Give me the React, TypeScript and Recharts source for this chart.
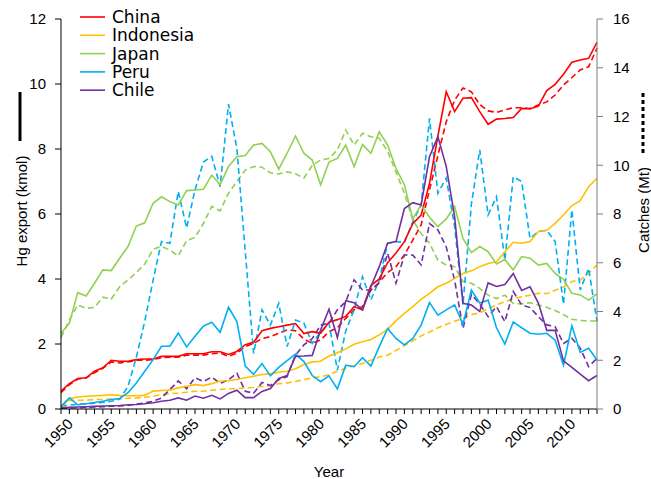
import { LineChart, Line, XAxis, YAxis, Legend } from "recharts"

const years = [
  1950, 1951, 1952, 1953, 1954, 1955, 1956, 1957, 1958, 1959,
  1960, 1961, 1962, 1963, 1964, 1965, 1966, 1967, 1968, 1969,
  1970, 1971, 1972, 1973, 1974, 1975, 1976, 1977, 1978, 1979,
  1980, 1981, 1982, 1983, 1984, 1985, 1986, 1987, 1988, 1989,
  1990, 1991, 1992, 1993, 1994, 1995, 1996, 1997, 1998, 1999,
  2000, 2001, 2002, 2003, 2004, 2005, 2006, 2007, 2008, 2009,
  2010, 2011, 2012, 2013, 2014
]

// Hg export (kmol), left axis
const chinaHg = [
  0.55, 0.78, 0.94, 0.96, 1.16, 1.27, 1.5, 1.47, 1.47, 1.52,
  1.54, 1.54, 1.62, 1.62, 1.62, 1.7, 1.7, 1.7, 1.76, 1.76,
  1.68, 1.77, 1.98, 2.05, 2.41, 2.48, 2.53, 2.58, 2.63, 2.32,
  2.38, 2.33, 2.67, 2.75, 2.85, 3.15, 3.05, 3.8, 4.0, 4.5,
  4.8, 5.15, 5.7, 5.97, 6.94, 8.4, 9.76, 9.15, 9.56, 9.58,
  9.15, 8.76, 8.92, 8.94, 8.97, 9.25, 9.23, 9.32, 9.8, 9.99,
  10.3, 10.67, 10.74, 10.79, 11.28
]
const indonesiaHg = [
  0.06, 0.32, 0.37, 0.39, 0.41, 0.42, 0.44, 0.42, 0.41, 0.41,
  0.42, 0.55, 0.57, 0.58, 0.65, 0.7, 0.75, 0.72, 0.78, 0.86,
  0.87, 0.91, 0.96, 1.01, 1.06, 1.08, 1.13, 1.16, 1.24, 1.37,
  1.45, 1.47, 1.63, 1.73, 1.85, 1.99, 2.07, 2.14, 2.28, 2.45,
  2.71, 2.94, 3.15, 3.37, 3.56, 3.76, 3.87, 4.02, 4.17, 4.25,
  4.38, 4.48, 4.53, 4.84, 5.13, 5.1, 5.15, 5.46, 5.5, 5.71,
  5.97, 6.26, 6.41, 6.84, 7.1
]
const japanHg = [
  2.33, 2.64, 3.58, 3.48, 3.87, 4.28, 4.26, 4.64, 5.0, 5.63,
  5.73, 6.33, 6.53, 6.38, 6.28, 6.72, 6.74, 6.76, 7.2, 6.9,
  7.46, 7.76, 7.8, 8.12, 8.17, 7.92, 7.38, 7.87, 8.4, 7.87,
  7.66, 6.9, 7.6, 7.71, 8.12, 7.46, 8.14, 7.87, 8.53, 8.12,
  7.4, 6.9, 5.85, 6.28, 5.9, 5.61, 5.85, 6.23, 5.25, 4.81,
  5.0, 4.84, 4.46, 4.6, 4.28, 4.69, 4.64, 4.43, 4.48, 4.17,
  3.99, 3.56, 3.51, 3.35, 3.54
]
const peruHg = [
  0.08, 0.34, 0.13, 0.16, 0.2, 0.24, 0.29, 0.32, 0.5, 0.8,
  1.16, 1.52, 1.93, 1.93, 2.34, 1.91, 2.24, 2.55, 2.67, 2.36,
  3.13, 2.69, 1.32, 1.07, 1.4, 1.02, 1.28, 1.49, 1.69, 1.46,
  1.03, 0.84, 1.02, 0.62, 1.35, 1.3, 1.58, 1.32, 1.92, 2.48,
  2.17, 1.97, 2.17, 2.58, 3.28, 2.89, 3.05, 3.2, 2.6, 3.66,
  3.26, 3.35, 2.5, 2.0, 2.68, 2.5, 2.33, 2.3, 2.33, 2.12,
  1.35, 2.56, 1.74, 1.87, 1.51
]
const chileHg = [
  0.03, 0.05, 0.06, 0.07, 0.08, 0.09, 0.1, 0.11, 0.13, 0.14,
  0.16, 0.19, 0.24, 0.27, 0.34, 0.27, 0.4, 0.33, 0.42, 0.31,
  0.48, 0.58, 0.35, 0.35, 0.54, 0.63, 0.94, 1.03, 1.62, 1.63,
  1.65, 2.43, 3.07, 2.2, 3.33, 3.27, 3.05, 3.76, 4.38, 5.1,
  5.15, 6.17, 6.35, 6.28, 7.76, 8.38, 7.46, 5.92, 3.25, 3.2,
  3.0, 3.88, 3.77, 3.83, 4.17, 3.65, 3.76, 3.26, 2.42, 2.42,
  1.48, 1.28, 1.07, 0.87, 1.03
]

// Catches (Mt), right axis
const chinaCatch = [
  0.67, 1.0, 1.23, 1.27, 1.49, 1.67, 1.93, 1.89, 1.93, 2.0,
  2.0, 2.03, 2.11, 2.13, 2.13, 2.21, 2.21, 2.21, 2.27, 2.29,
  2.16, 2.29, 2.56, 2.69, 2.89, 2.97, 3.11, 3.24, 3.21, 2.87,
  2.69, 2.83, 3.17, 3.33, 3.72, 4.07, 4.2, 4.88, 5.2, 5.6,
  5.84, 6.32, 6.93, 7.55, 8.99, 10.4, 11.79, 12.67, 13.17, 13.01,
  12.49, 12.23, 12.17, 12.27, 12.36, 12.36, 12.33, 12.47, 12.6, 12.88,
  13.29, 13.6, 13.91, 14.04, 14.8
]
const indonesiaCatch = [
  0.08, 0.35, 0.36, 0.36, 0.39, 0.39, 0.41, 0.41, 0.44, 0.45,
  0.48, 0.52, 0.59, 0.63, 0.65, 0.69, 0.73, 0.73, 0.77, 0.8,
  0.83, 0.83, 0.87, 0.88, 0.93, 0.96, 1.04, 1.07, 1.13, 1.2,
  1.28, 1.32, 1.41, 1.55, 1.67, 1.77, 1.87, 2.0, 2.13, 2.21,
  2.4, 2.6, 2.8, 3.0, 3.16, 3.33, 3.47, 3.6, 3.73, 3.87,
  3.95, 4.11, 4.27, 4.4, 4.53, 4.6, 4.67, 4.75, 4.73, 4.87,
  5.01, 5.23, 5.29, 5.56, 5.91
]
const japanCatch = [
  2.93, 3.65, 4.27, 4.13, 4.17, 4.59, 4.51, 5.01, 5.29, 5.6,
  5.95, 6.55, 6.67, 6.52, 6.28, 6.91, 7.04, 7.61, 8.31, 8.13,
  8.85, 9.33, 9.8, 9.95, 9.92, 9.69, 9.64, 9.73, 9.65, 9.47,
  10.0, 10.21, 10.28, 10.63, 11.44, 10.83, 11.31, 11.17, 11.11, 10.56,
  9.73, 8.85, 7.76, 7.2, 6.8, 6.11, 5.91, 5.84, 5.23, 5.16,
  4.95, 4.67, 4.53, 4.67, 4.33, 4.31, 4.36, 4.27, 4.17, 4.04,
  3.87, 3.68, 3.63, 3.61, 3.61
]
const peruCatch = [
  0.11, 0.16, 0.19, 0.21, 0.24, 0.27, 0.32, 0.4, 0.93, 2.13,
  3.6, 5.29, 6.87, 6.8, 8.93, 7.43, 8.99, 10.13, 10.37, 9.12,
  12.51, 10.69, 6.47, 2.28, 4.07, 3.44, 4.33, 2.56, 3.65, 3.52,
  2.69, 3.17, 3.52, 1.6, 3.2, 4.07, 5.43, 4.47, 5.29, 6.8,
  6.87, 6.83, 7.68, 8.37, 11.92, 8.85, 9.47, 7.48, 4.27, 8.4,
  10.63, 7.96, 8.71, 6.11, 9.53, 9.33, 7.0, 7.28, 7.33, 6.87,
  4.3, 8.17, 4.88, 5.77, 3.6
]
const chileCatch = [
  0.03, 0.04, 0.05, 0.07, 0.08, 0.09, 0.11, 0.12, 0.15, 0.2,
  0.25, 0.32, 0.45, 0.8, 1.15, 0.83, 1.28, 1.13, 1.31, 1.05,
  1.2, 1.47, 0.73, 0.65, 1.09, 0.96, 1.2, 1.33, 2.21, 2.63,
  2.89, 3.44, 3.52, 4.07, 4.4, 5.3, 4.88, 4.88, 5.16, 6.39,
  5.16, 6.32, 6.32, 5.91, 7.61, 7.35, 6.65, 5.29, 3.3, 4.7,
  4.3, 3.79, 4.2, 3.58, 4.82, 4.27, 4.16, 3.79, 3.45, 3.38,
  2.69, 2.9, 2.49, 1.74, 2.08
]

const hgTicks = [0, 2, 4, 6, 8, 10, 12]
const catchTicks = [0, 2, 4, 6, 8, 10, 12, 14, 16]

const series = [
  { name: "China", color: "#ff0000", hg: chinaHg, catches: chinaCatch },
  { name: "Indonesia", color: "#ffc000", hg: indonesiaHg, catches: indonesiaCatch },
  { name: "Japan", color: "#92d050", hg: japanHg, catches: japanCatch },
  { name: "Peru", color: "#00b0f0", hg: peruHg, catches: peruCatch },
  { name: "Chile", color: "#7030a0", hg: chileHg, catches: chileCatch }
]

const data = years.map((year, i) => {
  const row: any = { year }
  series.forEach((s) => {
    row[s.name + "Hg"] = s.hg[i]
    row[s.name + "Catch"] = s.catches[i]
  })
  return row
})

const FONT = "'Liberation Sans', Arial, sans-serif"

function YearTick(props: any) {
  const { x, y, payload } = props
  if (payload.value % 5 !== 0) return null
  const tx = x + 5
  const ty = y + 1
  return (
    <text
      x={tx}
      y={ty}
      transform={`rotate(-45 ${tx} ${ty})`}
      textAnchor="end"
      dominantBaseline="hanging"
      fontSize={15}
      fontFamily={FONT}
      fill="#000"
    >
      {payload.value}
    </text>
  )
}

function HgLabel() {
  return (
    <g>
      <line x1={20} x2={20} y1={92} y2={141} stroke="#000" strokeWidth={3} />
      <text
        x={21}
        y={211}
        transform="rotate(-90 21 211)"
        textAnchor="middle"
        dominantBaseline="central"
        fontSize={15}
        fontFamily={FONT}
        fill="#000"
      >
        Hg export (kmol)
      </text>
    </g>
  )
}

function CatchLabel() {
  return (
    <g>
      <line x1={643} x2={643} y1={93} y2={153} stroke="#000" strokeWidth={3} strokeDasharray="4 3" />
      <text
        x={643}
        y={210}
        transform="rotate(-90 643 210)"
        textAnchor="middle"
        dominantBaseline="central"
        fontSize={15}
        fontFamily={FONT}
        fill="#000"
      >
        Catches (Mt)
      </text>
    </g>
  )
}

function YearLabel() {
  return (
    <text x={329} y={471} textAnchor="middle" dominantBaseline="central" fontSize={15} fontFamily={FONT} fill="#000">
      Year
    </text>
  )
}

function LegendBox() {
  return (
    <svg width={220} height={105} style={{ display: "block" }}>
      {series.map((s, i) => (
        <g key={s.name}>
          <line x1={80} x2={105} y1={17 + i * 18.3} y2={17 + i * 18.3} stroke={s.color} strokeWidth={1.6} />
          <text
            x={112}
            y={17 + i * 18.3}
            dominantBaseline="central"
            fontSize={17}
            fontFamily="'DejaVu Sans', Verdana, sans-serif"
            fill="#000"
          >
            {s.name}
          </text>
        </g>
      ))}
    </svg>
  )
}

export default function App() {

  return (

    <div style={{ position: "absolute", left: 0, top: 0, background: "#fff" }}>

      <LineChart
        width={651}
        height={479}
        data={data}
        margin={{ top: 19, right: 14, bottom: 20, left: 16 }}
      >

        <XAxis
          dataKey="year"
          type="number"
          domain={[1950, 2014]}
          ticks={years}
          interval={0}
          tick={<YearTick />}
          tickSize={5}
          height={50}
          axisLine={{ stroke: "#000" }}
          tickLine={{ stroke: "#000" }}
          label={<YearLabel />}
        />

        <YAxis
          yAxisId="hg"
          domain={[0, 12]}
          ticks={hgTicks}
          interval={0}
          width={45}
          tickSize={6}
          tickMargin={9}
          axisLine={{ stroke: "#000" }}
          tickLine={{ stroke: "#000" }}
          tick={{ fill: "#000", fontSize: 15, fontFamily: FONT }}
          label={<HgLabel />}
        />

        <YAxis
          yAxisId="catch"
          orientation="right"
          domain={[0, 16]}
          ticks={catchTicks}
          interval={0}
          width={40}
          tickSize={6}
          tickMargin={10}
          axisLine={{ stroke: "#7f7f7f" }}
          tickLine={{ stroke: "#7f7f7f" }}
          tick={{ fill: "#000", fontSize: 15, fontFamily: FONT }}
          label={<CatchLabel />}
        />

        <Legend
          layout="horizontal"
          verticalAlign="middle"
          align="center"
          content={() => <LegendBox />}
          wrapperStyle={{ left: 0, top: 0, width: 220, height: 105 }}
        />

        {series.map((s) => (
          <Line
            key={s.name + "Catch"}
            yAxisId="catch"
            dataKey={s.name + "Catch"}
            stroke={s.color}
            strokeWidth={1.6}
            strokeDasharray="6 3.5"
            dot={false}
            isAnimationActive={false}
            legendType="none"
          />
        ))}

        {series.map((s) => (
          <Line
            key={s.name + "Hg"}
            yAxisId="hg"
            dataKey={s.name + "Hg"}
            stroke={s.color}
            strokeWidth={1.6}
            dot={false}
            isAnimationActive={false}
          />
        ))}

      </LineChart>

    </div>

  )

}
